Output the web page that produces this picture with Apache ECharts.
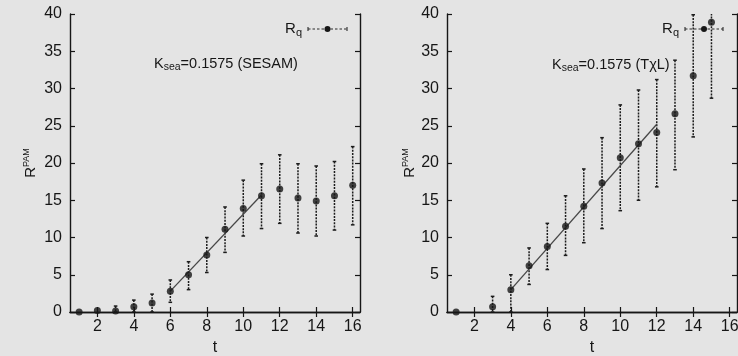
<!DOCTYPE html>
<html>
<head>
<meta charset="utf-8">
<script src="https://cdn.jsdelivr.net/npm/echarts@6/dist/echarts.min.js"></script>
<style>
  html, body { margin: 0; padding: 0; background: #e4e4e4; }
  #chart { width: 738px; height: 356px; }
</style>
</head>
<body>
<div id="chart"></div>
<script>
// ---- data: R^PAM versus t, two lattice analyses ----
const tickT = [2, 4, 6, 8, 10, 12, 14, 16];

// SESAM
const sesamT  = [1, 2, 3, 4, 5, 6, 7, 8, 9, 10, 11, 12, 13, 14, 15, 16];
const sesamR  = [0, 0.2, 0.15, 0.7, 1.2, 2.8, 5.0, 7.65, 11.1, 13.9, 15.6, 16.5, 15.3, 14.9, 15.6, 17.0];
const sesamLo = [0, 0.2, 0, 0, 0, 1.3, 3.0, 5.3, 8.0, 10.2, 11.2, 11.9, 10.6, 10.2, 11.0, 11.7];
const sesamHi = [0, 0.2, 0.8, 1.6, 2.4, 4.3, 6.75, 10.0, 14.1, 17.7, 19.9, 21.1, 19.9, 19.6, 20.2, 22.2];
const sesamFitT = [6, 11];
const sesamFitR = [2.8, 15.7];

// TχL
const txlT  = [1, 3, 4, 5, 6, 7, 8, 9, 10, 11, 12, 13, 14, 15];
const txlR  = [0, 0.7, 3.0, 6.2, 8.8, 11.5, 14.2, 17.3, 20.7, 22.6, 24.1, 26.6, 31.7, 38.9];
const txlLo = [0, 0, 0, 3.7, 5.7, 7.6, 9.3, 11.2, 13.6, 15.0, 16.8, 19.1, 23.5, 28.7];
const txlHi = [0, 2.1, 5.0, 8.6, 11.9, 15.6, 19.2, 23.4, 27.8, 29.8, 31.2, 33.8, 39.9, 49.1];
const txlFitT = [4, 12];
const txlFitR = [3.0, 25.2];

const FONT = "'Liberation Sans', Arial, sans-serif";
const INK = '#161616';

const zip2 = (a, b) => a.map((v, i) => [v, b[i]]);
const zip3 = (a, b, c) => a.map((v, i) => [v, b[i], c[i]]);

// dashed vertical error bar with short caps
function errorBar(params, api) {
  const t = api.value(0), lo = api.value(1), hi = api.value(2);
  if (!(hi > lo)) return null;
  const a = api.coord([t, hi]);
  const b = api.coord([t, lo]);
  const cw = 1.8;
  const st = { stroke: '#1c1c1c', lineWidth: 1.5 };
  return {
    type: 'group',
    children: [
      { type: 'line', shape: { x1: a[0], y1: a[1], x2: b[0], y2: b[1] },
        style: Object.assign({ lineDash: [2, 1.2] }, st) },
      { type: 'line', shape: { x1: a[0] - cw, y1: a[1], x2: a[0] + cw, y2: a[1] }, style: st },
      { type: 'line', shape: { x1: b[0] - cw, y1: b[1], x2: b[0] + cw, y2: b[1] }, style: st }
    ]
  };
}

const axisLine = { show: true, lineStyle: { color: INK, width: 1.4 } };
const tickIn = { show: true, inside: true, length: 5, lineStyle: { color: INK, width: 1.2 } };
const labelStyle = { color: INK, fontSize: 16, fontFamily: FONT };

function xPair(grid) {
  return [
    { type: 'value', gridIndex: grid, position: 'bottom', min: 0.5, max: 16.4,
      axisLine, splitLine: { show: false },
      axisTick: Object.assign({ customValues: tickT }, tickIn),
      axisLabel: Object.assign({ customValues: tickT, margin: 7 }, labelStyle),
      name: 't', nameLocation: 'middle', nameGap: 27,
      nameTextStyle: { color: INK, fontSize: 16, fontFamily: FONT } },
    { type: 'value', gridIndex: grid, position: 'top', min: 0.5, max: 16.4,
      axisLine, splitLine: { show: false },
      axisTick: Object.assign({ customValues: tickT }, tickIn),
      axisLabel: { show: false, customValues: tickT } }
  ];
}

function yPair(grid, gap) {
  return [
    { type: 'value', gridIndex: grid, position: 'left', min: 0, max: 40, interval: 5,
      axisLine, splitLine: { show: false }, axisTick: tickIn,
      axisLabel: Object.assign({ margin: 8 }, labelStyle),
      name: '{r|R}{s|PAM}', nameLocation: 'middle', nameGap: gap, nameRotate: 90,
      nameTextStyle: {
        color: INK, fontFamily: FONT,
        rich: {
          r: { fontSize: 15, fontFamily: FONT, color: INK, lineHeight: 17 },
          s: { fontSize: 9, fontFamily: FONT, color: INK, verticalAlign: 'top', lineHeight: 10 }
        }
      } },
    { type: 'value', gridIndex: grid, position: 'right', min: 0, max: 40, interval: 5,
      axisLine, splitLine: { show: false }, axisTick: tickIn, axisLabel: { show: false } }
  ];
}

function panelSeries(xi, yi, t, r, lo, hi, fitT, fitR) {
  return [
    { type: 'custom', xAxisIndex: xi, yAxisIndex: yi, clip: true,
      renderItem: errorBar, data: zip3(t, lo, hi),
      encode: { x: 0, y: [1, 2] }, z: 2 },
    { type: 'line', xAxisIndex: xi, yAxisIndex: yi, data: zip2(fitT, fitR),
      symbol: 'none', lineStyle: { color: '#474747', width: 1.3 }, z: 3, silent: true },
    { type: 'scatter', xAxisIndex: xi, yAxisIndex: yi, data: zip2(t, r),
      symbol: 'circle', symbolSize: 7, itemStyle: { color: INK }, z: 4 }
  ];
}

// key entry: label, dashed sample with caps and a dot
function keyEntry(textRight, x1, x2, y) {
  const mid = (x1 + x2) / 2;
  const st = { stroke: '#2a2a2a', lineWidth: 1.1 };
  return [
    { type: 'text', x: textRight, y: y, style: {
        text: '{r|R}{s|q}', align: 'right', verticalAlign: 'middle',
        rich: {
          r: { fontSize: 15, fontFamily: FONT, fill: INK, lineHeight: 18 },
          s: { fontSize: 11, fontFamily: FONT, fill: INK, verticalAlign: 'bottom', lineHeight: 10 }
        } } },
    { type: 'line', shape: { x1: x1, y1: y, x2: x2, y2: y }, style: Object.assign({ lineDash: [2.5, 2] }, st) },
    { type: 'line', shape: { x1: x1, y1: y - 2, x2: x1, y2: y + 2 }, style: st },
    { type: 'line', shape: { x1: x2, y1: y - 2, x2: x2, y2: y + 2 }, style: st },
    { type: 'circle', shape: { cx: mid, cy: y, r: 3 }, style: { fill: INK } }
  ];
}

function kLabel(x, y, tail) {
  return { type: 'text', x: x, y: y, style: {
    text: '{k|K}{s|sea}{k|' + tail + '}', verticalAlign: 'middle',
    rich: {
      k: { fontSize: 14.5, fontFamily: FONT, fill: INK, lineHeight: 18 },
      s: { fontSize: 10.5, fontFamily: FONT, fill: INK, verticalAlign: 'bottom', lineHeight: 10 }
    } } };
}

const chart = echarts.init(document.getElementById('chart'), null, { renderer: 'canvas' });
chart.setOption({
  backgroundColor: '#e4e4e4',
  animation: false,
  grid: [
    { left: 70, top: 14, width: 290, height: 298, outerBoundsMode: 'none', containLabel: false },
    { left: 447, top: 14, width: 290, height: 298, outerBoundsMode: 'none', containLabel: false }
  ],
  xAxis: [].concat(xPair(0), xPair(1)),
  yAxis: [].concat(yPair(0, 31), yPair(1, 21)),
  series: [].concat(
    panelSeries(0, 0, sesamT, sesamR, sesamLo, sesamHi, sesamFitT, sesamFitR),
    panelSeries(2, 2, txlT, txlR, txlLo, txlHi, txlFitT, txlFitR)
  ),
  graphic: [].concat(
    keyEntry(302, 308, 347, 29),
    keyEntry(679, 685, 723, 29),
    [kLabel(154, 64, '=0.1575 (SESAM)'), kLabel(552, 65, '=0.1575 (TχL)')]
  )
});
</script>
</body>
</html>
